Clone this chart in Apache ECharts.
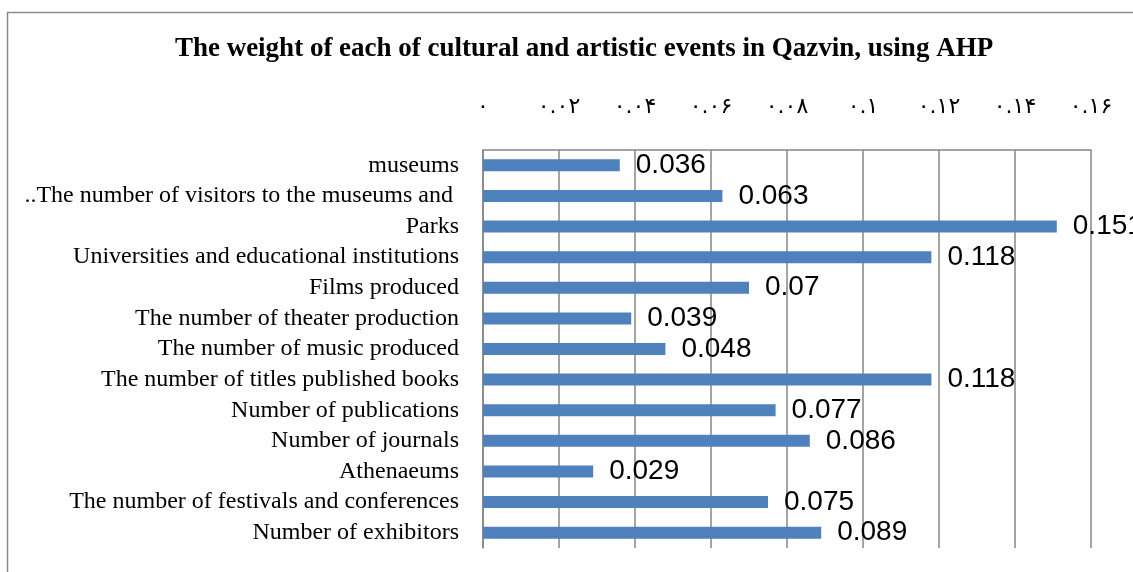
<!DOCTYPE html>
<html>
<head>
<meta charset="utf-8">
<script src="https://cdn.jsdelivr.net/npm/echarts@6/dist/echarts.min.js"></script>
<style>
html,body{margin:0;padding:0;background:#fff;}
#chart{width:1133px;height:572px;}
</style>
</head>
<body>
<div id="chart"></div>
<script>
const categories = [
  'museums',
  '..The number of visitors to the museums and ',
  'Parks',
  'Universities and educational institutions',
  'Films produced',
  'The number of theater production',
  'The number of music produced',
  'The number of titles published books',
  'Number of publications',
  'Number of journals',
  'Athenaeums',
  'The number of festivals and conferences',
  'Number of exhibitors'
];
const values = [0.036, 0.063, 0.151, 0.118, 0.07, 0.039, 0.048, 0.118, 0.077, 0.086, 0.029, 0.075, 0.089];
const tickLabels = ['۰', '۰.۰۲', '۰.۰۴', '۰.۰۶', '۰.۰۸', '۰.۱', '۰.۱۲', '۰.۱۴', '۰.۱۶'];
const titleText = 'The weight of each of cultural and artistic events in Qazvin, using AHP';

const chart = echarts.init(document.getElementById('chart'));
chart.setOption({
  animation: false,
  backgroundColor: '#fff',
  graphic: [{
    type: 'rect',
    shape: {x: 7.5, y: 12.5, width: 1140, height: 600},
    style: {fill: 'none', stroke: '#8c8c8c', lineWidth: 1.5},
    silent: true
  }],
  title: {
    text: titleText,
    left: 579, top: 31, textAlign: 'center',
    textStyle: {fontFamily: 'Liberation Serif', fontWeight: 'bold', fontSize: 27, color: '#000'}
  },
  grid: {left: 483, right: 42, top: 150, bottom: 24, containLabel: false},
  xAxis: {
    type: 'value', position: 'top', min: 0, max: 0.16, interval: 0.02,
    axisLine: {show: true, lineStyle: {color: '#868686', width: 1.5}},
    axisTick: {show: false},
    splitLine: {show: true, lineStyle: {color: '#868686', width: 1.5}},
    axisLabel: {
      margin: 32, fontSize: 22, color: '#000', fontFamily: 'DejaVu Sans',
      formatter: function (v) { return tickLabels[Math.round(v / 0.02)]; }
    }
  },
  yAxis: {
    type: 'category', data: categories, inverse: true,
    axisLine: {show: true, lineStyle: {color: '#868686', width: 1.5}},
    axisTick: {show: false},
    axisLabel: {margin: 24, fontSize: 24, color: '#000', fontFamily: 'Liberation Serif', interval: 0}
  },
  series: [{
    type: 'bar', data: values, barWidth: 12,
    itemStyle: {color: '#4F81BD'},
    label: {
      show: true, position: 'right', distance: 16,
      fontFamily: 'Liberation Sans', fontSize: 28, color: '#000',
      formatter: function (p) { return String(p.value); }
    }
  }]
});
</script>
</body>
</html>
